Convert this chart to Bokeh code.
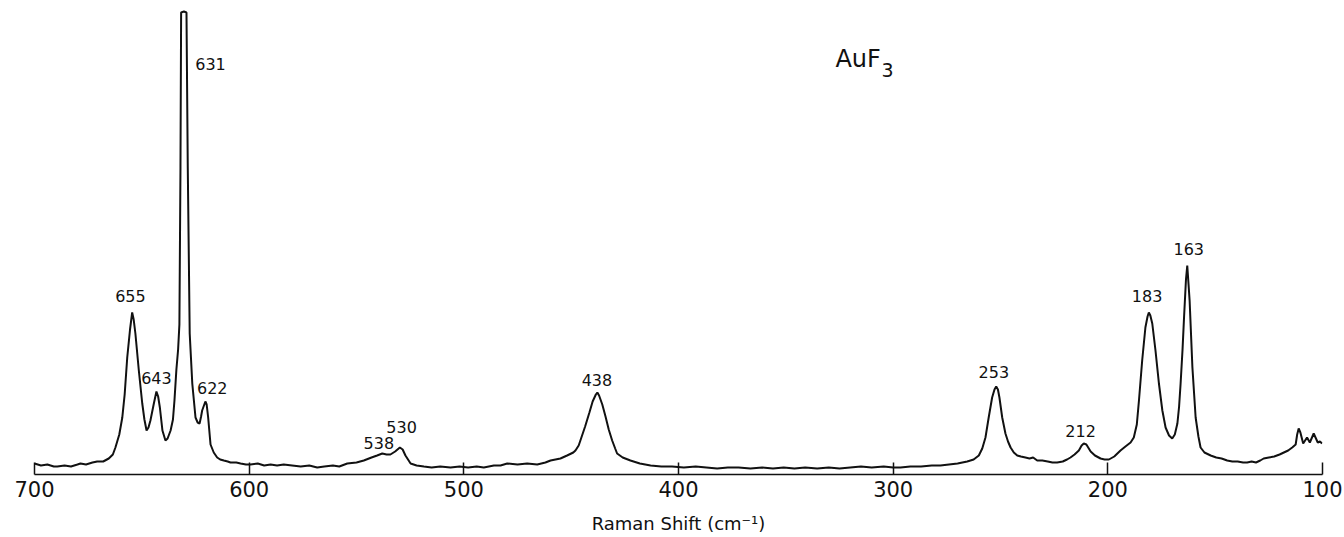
from bokeh.plotting import figure
from bokeh.models import Range1d, FixedTicker, ColumnDataSource
from bokeh.core.properties import value
from bokeh.embed import file_html
from bokeh.resources import INLINE

# Raman spectrum of AuF3 (wavenumber cm^-1, intensity arb.)
shift = [
    700.0, 697, 694, 691, 689.4, 686, 683, 680, 678.6, 676, 673, 670.8, 668, 665.4, 663.5, 662.3,
    660.5, 659.1, 658, 656.8, 655.5, 654.5, 653.8, 653.0, 651.4, 649.8, 648.8, 647.8, 646.9, 646.0,
    644.4, 643.2, 642.4, 641.6, 640.4, 639.0, 638.0, 636.6, 635.5, 634.8, 633.9, 633.1, 632.5, 632.0,
    631.7, 630.4, 629.2, 628.6, 627.7, 626.5, 625.0, 624.0, 623.1, 622.4, 621.9, 620.4, 619.8, 619.1,
    618.0, 616.5, 614.9, 613.5, 611.8, 610, 608.7, 606, 604.0, 601.5, 599.4, 596, 593, 590, 587,
    583.9, 580, 576, 572, 568.3, 565, 561, 558, 554.3, 550, 546.6, 543, 540.4, 538.0, 536, 534.2,
    532, 529.8, 528.5, 527.2, 524.8, 522, 518.6, 515, 511, 506.2, 502, 498, 494, 490.7, 486, 482.9,
    479.8, 475, 470.5, 465.8, 462, 459.6, 455, 451.9, 449, 448.0, 446.5, 445.7, 443.5, 441.5, 440,
    438.5, 437.8, 437, 435.5, 434, 432.5, 430.9, 429.5, 428.6, 426, 422.4, 418, 413.0, 408, 403,
    397.5, 392, 387, 382, 377, 372, 366.5, 361, 356, 351, 346, 341, 335.4, 330, 325, 320, 315, 310,
    304.4, 300, 296.6, 292, 287, 282, 278, 274, 270, 265.5, 262.5, 260.1, 258.5, 257.0, 255.5, 253.9,
    252.8, 252.0, 251.2, 250.5, 249.2, 247.7, 246.5, 245.3, 243.8, 242.2, 240.5, 238.4, 236.5, 234.8,
    232.9, 230.5, 228, 225.8, 223.6, 221, 219, 217.4, 215.5, 213.5, 212.2, 211.2, 210, 208.0, 206,
    203.4, 201.5, 199.5, 197, 194.1, 191.8, 189.4, 187.9, 186.5, 185.5, 184.0, 182.5, 181.5, 180.9,
    180.2, 179.3, 177.8, 176.2, 174.6, 173.1, 171.5, 170.0, 168.8, 167.6, 166.8, 166.1, 165.2, 164.5,
    163.6, 163.0, 162.4, 161.9, 160.6, 159.1, 157.8, 156.8, 155, 152.1, 149.5, 147, 144.4, 142, 139.5,
    137, 135.1, 133, 131, 129, 127.4, 125, 122.5, 120, 118.0, 116, 114.1, 112.5, 111.8, 111.1, 110.3,
    109.0, 107.2, 105.9, 104.1, 102.2, 101.2, 100.2,
]
intensity = [
    11, 9, 10, 8, 8, 9, 8, 10, 11, 10, 12, 13, 13, 16, 20, 27,
    40, 57, 80, 117, 145, 162, 155, 141, 104, 71, 55, 44, 47, 54,
    71, 83, 78, 67, 44, 34, 36, 44, 55, 74, 105, 125, 150, 307,
    462, 463, 462, 307, 141, 91, 57, 52, 51, 58, 64, 73, 70, 57,
    30, 22, 17, 15, 14, 13, 12, 12, 11, 10, 10, 11, 9, 10, 9,
    10, 9, 8, 9, 7, 8, 9, 8, 11, 12, 14, 17, 19, 21, 20, 20,
    23, 27, 25, 19, 11, 9, 8, 7, 8, 7, 8, 7, 8, 7, 9, 9,
    11, 10, 11, 10, 12, 14, 16, 19, 22, 24, 29, 34, 48, 62, 73,
    80, 82, 79, 70, 58, 45, 34, 26, 21, 17, 14, 11, 9, 8, 8,
    7, 8, 7, 6, 7, 7, 6, 7, 6, 7, 6, 7, 6, 7, 6, 7, 8, 7,
    8, 7, 7, 8, 8, 9, 9, 10, 11, 13, 15, 19, 26, 37, 57, 77,
    85, 88, 85, 77, 57, 41, 33, 27, 22, 19, 18, 17, 16, 17,
    14, 14, 13, 12, 12, 13, 15, 17, 20, 24, 29, 31, 30, 23, 19,
    16, 15, 15, 18, 24, 28, 32, 37, 50, 74, 114, 147, 158, 162,
    159, 151, 124, 91, 64, 47, 39, 36, 40, 51, 68, 91, 125, 157,
    195, 209, 190, 174, 107, 57, 38, 27, 22, 19, 17, 16, 14, 13, 13,
    12, 12, 13, 12, 14, 16, 17, 18, 20, 22, 24, 27, 30, 40, 46, 42,
    31, 37, 32, 41, 32, 33, 31,
]

# peak annotations
peak_labels = ["655", "643", "631", "622", "538", "530", "438", "253", "212", "183", "163"]
label_x = [655.3, 643.2, 618.0, 617.2, 539.6, 529.0, 438.0, 253.1, 212.7, 181.7, 162.3]
label_y = [179, 97, 411, 87, 32, 48, 95, 103, 44, 179, 226]

tick_values = [700, 600, 500, 400, 300, 200, 100]
x_title = "Raman Shift (cm\u207b\u00b9)"
compound = "AuF"
compound_sub = "3"

FONT = "DejaVu Sans"
INK = "#111111"

p = figure(width=1344, height=537, output_backend="svg", toolbar_location=None,
           x_range=Range1d(700, 100), y_range=Range1d(0, 474),
           min_border_left=34, min_border_right=22, min_border_top=0, min_border_bottom=63,
           y_axis_location=None)
p.outline_line_color = None
p.xgrid.visible = False
p.ygrid.visible = False
p.background_fill_color = "white"
p.border_fill_color = "white"

ax = p.xaxis[0]
ax.ticker = FixedTicker(ticks=tick_values)
ax.minor_tick_line_color = None
ax.major_tick_in = 12
ax.major_tick_out = 0
ax.major_tick_line_width = 1.5
ax.major_tick_line_color = INK
ax.axis_line_width = 1.5
ax.axis_line_color = INK
ax.major_label_text_font = FONT
ax.major_label_text_font_size = "21px"
ax.major_label_text_color = INK
ax.major_label_standoff = 6
ax.axis_label = x_title
ax.axis_label_text_font = FONT
ax.axis_label_text_font_size = "18px"
ax.axis_label_text_font_style = "normal"
ax.axis_label_text_color = INK
ax.axis_label_standoff = 13

p.line(shift, intensity, line_color=INK, line_width=2.0)

src = ColumnDataSource(dict(x=label_x, y=label_y, t=peak_labels))
p.text(x="x", y="y", text="t", source=src, text_align="center", text_baseline="middle",
       text_font=value(FONT), text_font_size="16px", text_color=INK)

p.text(x=[326.9], y=[415.7], text=[compound], text_align="left", text_baseline="middle",
       text_font=value(FONT), text_font_size="24px", text_color=INK)
p.text(x=[302.6], y=[405], text=[compound_sub], text_align="center", text_baseline="middle",
       text_font=value(FONT), text_font_size="19px", text_color=INK)

open("out.html", "w").write(file_html(p, INLINE))
